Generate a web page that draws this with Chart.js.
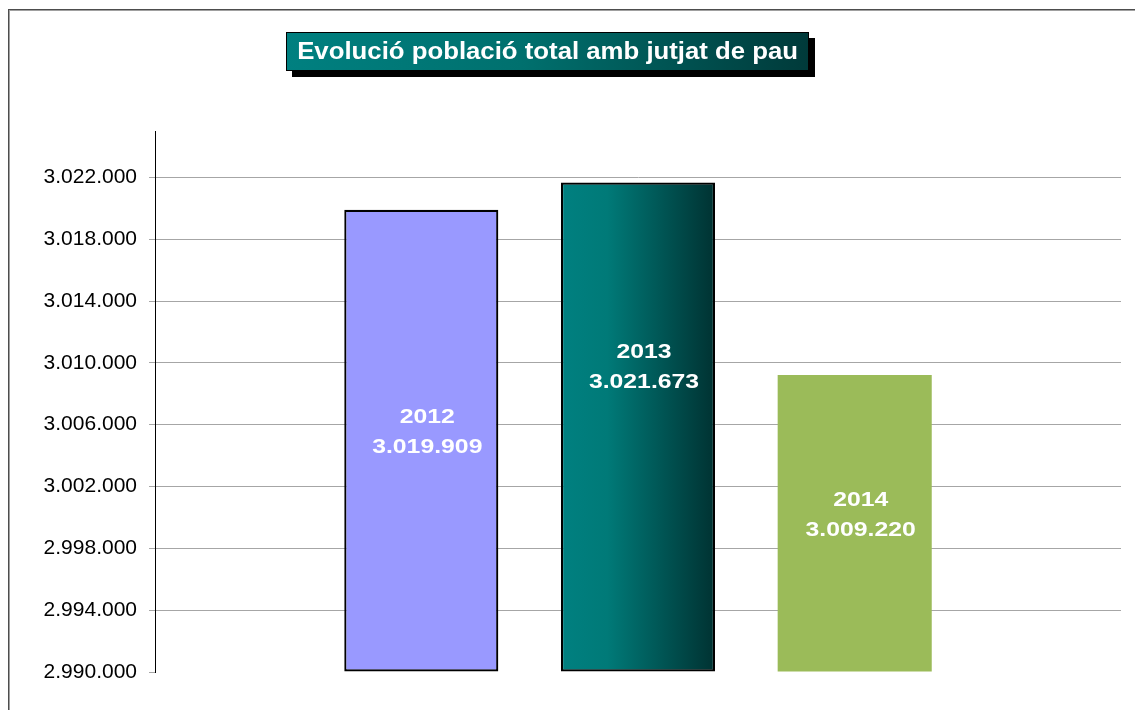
<!DOCTYPE html>
<html><head><meta charset="utf-8">
<script src="https://cdn.jsdelivr.net/npm/chart.js@4.4.1/dist/chart.umd.min.js"></script>
<style>
html,body{margin:0;padding:0;background:#fff;overflow:hidden}
#wrap{position:relative;width:1135px;height:710px;overflow:hidden}
#frame{position:absolute;left:8px;top:9px;width:1200px;height:800px;border-top:1px solid #4d4d4d;border-left:1px solid #4d4d4d;box-shadow:inset 1px 1px 0 #a0a0a0}
#title{position:absolute;left:286px;top:32px;width:521px;height:37px;border:1px solid #000;background:linear-gradient(to right,#008080 0%,#00706e 45%,#003a3a 100%);box-shadow:6px 6px 0 #000;color:#fff;font:bold 23px "Liberation Sans",Arial,sans-serif;line-height:37px;text-align:center;white-space:nowrap;z-index:2}
#title span{display:inline-block;transform:scaleX(1.12)}
canvas{position:absolute;left:0;top:0;z-index:1}
</style>
</head>
<body>
<div id="wrap">
  <div id="frame"></div>
  <div id="title"><span>Evolució població total amb jutjat de pau</span></div>
  <canvas id="c" width="1135" height="710"></canvas>
</div>
<script>
// ---- data ----
const categories = [''];
const seriesLabels = ['2012', '2013', '2014'];
const values = [3019909, 3021673, 3009220];
const tickValues = [2990000, 2994000, 2998000, 3002000, 3006000, 3010000, 3014000, 3018000, 3022000];
const yMin = 2990000;
const yMax = 3025000;

// ---- styles ----
const barColors = ['#9999FF', null, '#9BBB59'];
const borderWidths = [2.2, 2.2, 0];
const labelOffsets = [-8.5, -59.5, -8.5];
const CAT_PCT = 0.673, BAR_PCT = 0.711;

function fmt(v) {
  return String(Math.round(v)).replace(/\B(?=(\d{3})+(?!\d))/g, '.');
}

function tealGradient(c) {
  const ch = c.chart, a = ch.chartArea;
  if (!a) return '#007f7f';
  const cw = a.right - a.left;
  const slot = cw * CAT_PCT / 3;
  const bw = slot * BAR_PCT;
  const cx = (a.left + a.right) / 2;
  const g = ch.ctx.createLinearGradient(cx - bw / 2, 0, cx + bw / 2, 0);
  g.addColorStop(0, '#008080');
  g.addColorStop(0.3, '#007a78');
  g.addColorStop(1, '#003232');
  return g;
}

const labelPlugin = {
  id: 'barLabels',
  afterDatasetsDraw(chart) {
    const ctx = chart.ctx;
    const bottom = chart.chartArea.bottom;
    for (let i = 0; i < values.length; i++) {
      const el = chart.getDatasetMeta(i).data[0];
      if (!el) continue;
      const base = Math.min(el.base, bottom);
      const cy = (el.y + base) / 2 + labelOffsets[i];
      ctx.save();
      ctx.fillStyle = '#ffffff';
      ctx.font = 'bold 21px "Liberation Sans", Arial, sans-serif';
      ctx.textAlign = 'center';
      ctx.textBaseline = 'middle';
      ctx.translate(el.x + 6, cy);
      ctx.scale(1.18, 1);
      ctx.fillText(seriesLabels[i], 0, -15);
      ctx.fillText(fmt(values[i]), 0, 15);
      ctx.restore();
    }
  }
};

new Chart(document.getElementById('c'), {
  type: 'bar',
  data: {
    labels: categories,
    datasets: values.map((v, i) => ({
      label: seriesLabels[i],
      data: [v],
      base: yMin,
      backgroundColor: barColors[i] || tealGradient,
      borderColor: '#000',
      borderWidth: borderWidths[i],
      borderSkipped: false,
      categoryPercentage: CAT_PCT,
      barPercentage: BAR_PCT
    }))
  },
  options: {
    responsive: false,
    animation: false,
    layout: { padding: { top: 131, right: 14, bottom: 38, left: 0 } },
    plugins: { legend: { display: false }, tooltip: { enabled: false }, title: { display: false } },
    scales: {
      x: { display: false },
      y: {
        min: yMin,
        max: yMax,
        afterBuildTicks: s => { s.ticks = tickValues.map(v => ({ value: v })); },
        afterFit: s => { s.width = 155; },
        ticks: {
          autoSkip: false,
          color: '#000',
          padding: 12,
          font: { family: '"Liberation Sans", Arial, sans-serif', size: 21 },
          callback: v => fmt(v)
        },
        grid: {
          color: c => (c.tick && c.tick.value === yMin) ? 'rgba(0,0,0,0)' : '#a6a6a6',
          tickColor: '#a6a6a6',
          tickLength: 6,
          lineWidth: 1
        },
        border: { display: true, color: '#000', width: 1 }
      }
    }
  },
  plugins: [labelPlugin]
});
</script>
</body></html>
